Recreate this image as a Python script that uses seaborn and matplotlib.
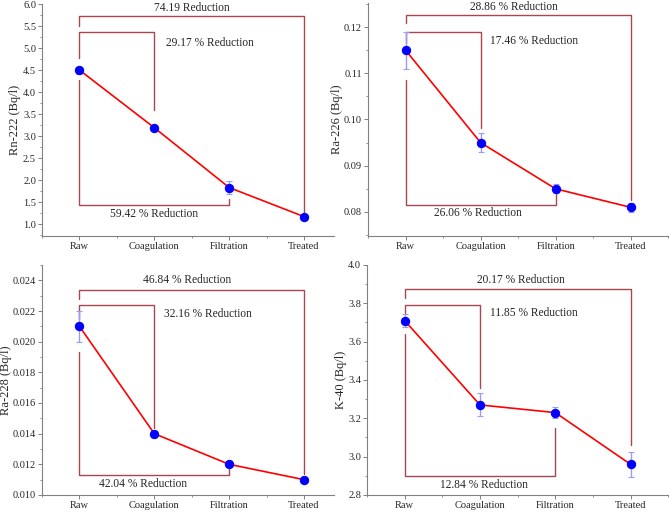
import matplotlib
matplotlib.use("Agg")
import matplotlib.pyplot as plt
import numpy as np
import pandas as pd
import seaborn as sns
from matplotlib.ticker import MultipleLocator

stages = ["Raw", "Coagulation", "Filtration", "Treated"]

rn222 = [4.50, 3.19, 1.83, 1.17]
rn222_err = [0.08, 0.03, 0.15, 0.03]
ra226 = [0.115, 0.095, 0.085, 0.081]
ra226_err = [0.004, 0.002, 0.001, 0.001]
ra228 = [0.021, 0.014, 0.012, 0.011]
ra228_err = [0.001, 0.0001, 0.0001, 0.0001]
k40 = [3.71, 3.27, 3.23, 2.96]
k40_err = [0.035, 0.06, 0.03, 0.065]

labels_rn = ["74.19 Reduction", "29.17 % Reduction", "59.42 % Reduction"]
labels_ra226 = ["28.86 % Reduction", "17.46 % Reduction", "26.06 % Reduction"]
labels_ra228 = ["46.84 % Reduction", "32.16 % Reduction", "42.04 % Reduction"]
labels_k40 = ["20.17 % Reduction", "11.85 % Reduction", "12.84 % Reduction"]

sns.set_style("ticks")
plt.rcParams["font.family"] = ["Liberation Serif", "DejaVu Serif"]

W, H = 669, 512
fig = plt.figure(figsize=(W / 100, H / 100), dpi=100)

LINE = "#ff0000"
DOT = "#0000ff"
ERR = "#9a9aff"
BRK = "#a8474f"
AX = "#808080"


def px_axes(left, top, right, bottom):
    return fig.add_axes([left / W, 1 - bottom / H, (right - left) / W, (bottom - top) / H])


def bracket(ax, x0, x1, yh, y0, y1):
    # horizontal part plus two legs
    ax.plot([x0, x0, x1, x1], [y0, yh, yh, y1], color=BRK, lw=1.0, zorder=1)


def panel(ax, vals, errs, ylabel, ylim, major, minor, fmt, brackets, texts, names):
    df = pd.DataFrame({"x": np.arange(len(stages)), "y": vals})
    ax.errorbar(df["x"], df["y"], yerr=errs, fmt="none", ecolor=ERR, elinewidth=1,
                capsize=2.5, capthick=0.8, zorder=2)
    sns.lineplot(data=df, x="x", y="y", ax=ax, color=LINE, lw=1.2, marker="o",
                 markersize=6, markerfacecolor=DOT, markeredgecolor=DOT, zorder=3)
    for b in brackets:
        bracket(ax, *b)
    for (tx, ty, ha), name in zip(texts, names):
        ax.text(tx, ty, name, ha=ha, va="center", fontsize=8.3)
    ax.set_ylim(*ylim)
    ax.set_xticks(range(len(stages)))
    ax.set_xticklabels(stages)
    ax.xaxis.set_minor_locator(MultipleLocator(0.5))
    ax.yaxis.set_major_locator(MultipleLocator(major))
    ax.yaxis.set_minor_locator(MultipleLocator(minor))
    ax.yaxis.set_major_formatter(fmt)
    ax.set_xlabel("")
    ax.set_ylabel(ylabel, fontsize=9)
    sns.despine(ax=ax)
    for s in ["left", "bottom"]:
        ax.spines[s].set_color(AX)
        ax.spines[s].set_linewidth(0.8)
    ax.tick_params(which="major", length=2.8, width=0.7, color=AX, labelsize=7.5, pad=1.5)
    ax.tick_params(which="minor", length=1.6, width=0.6, color=AX)


ax1 = px_axes(42, 4, 334, 236)
ax1.set_xlim(-0.5, 3.4)
panel(ax1, rn222, rn222_err, "Rn-222 (Bq/l)", (0.73, 6.0), 0.5, 0.25, "{x:.1f}",
      [(0, 3, 5.73, 5.5, 1.27), (0, 1, 5.36, 4.77, 3.59), (0, 2, 1.43, 4.27, 1.57)],
      [(1.5, 5.9, "center"), (1.15, 5.11, "left"), (1.0, 1.23, "center")], labels_rn)

ax2 = px_axes(368, 3, 669, 236)
ax2.set_xlim(-0.5, 3.51)
panel(ax2, ra226, ra226_err, "Ra-226 (Bq/l)", (0.0748, 0.1252), 0.01, 0.005, "{x:.2f}",
      [(0, 3, 0.1226, 0.1209, 0.0826), (0, 1, 0.1189, 0.1165, 0.0982), (0, 2, 0.0815, 0.1086, 0.0855)],
      [(1.45, 0.1243, "center"), (1.13, 0.1170, "left"), (0.97, 0.0798, "center")], labels_ra226)

ax3 = px_axes(42, 265, 334, 495)
ax3.set_xlim(-0.5, 3.4)
panel(ax3, ra228, ra228_err, "Ra-228 (Bq/l)", (0.010, 0.025), 0.002, 0.001, "{x:.3f}",
      [(0, 3, 0.0234, 0.0228, 0.0114), (0, 1, 0.0224, 0.0215, 0.0144), (0, 2, 0.0113, 0.0193, 0.0117)],
      [(1.44, 0.0240, "center"), (1.13, 0.0218, "left"), (0.85, 0.0107, "center")], labels_ra228)

ax4 = px_axes(367, 265, 669, 495)
ax4.set_xlim(-0.5, 3.51)
panel(ax4, k40, k40_err, "K-40 (Bq/l)", (2.8, 4.0), 0.2, 0.1, "{x:.1f}",
      [(0, 3, 3.875, 3.83, 3.06), (0, 1, 3.79, 3.75, 3.36), (0, 2, 2.90, 3.64, 3.15)],
      [(1.55, 3.92, "center"), (1.13, 3.75, "left"), (1.05, 2.85, "center")], labels_k40)

ax1.yaxis.set_label_coords(-21 / 292, 0.5)
ax3.yaxis.set_label_coords(-30 / 292, 0.5)
ax2.yaxis.set_label_coords(-25 / 301, 0.5)
ax4.yaxis.set_label_coords(-20 / 302, 0.5)

fig.savefig("out.png", dpi=100)
